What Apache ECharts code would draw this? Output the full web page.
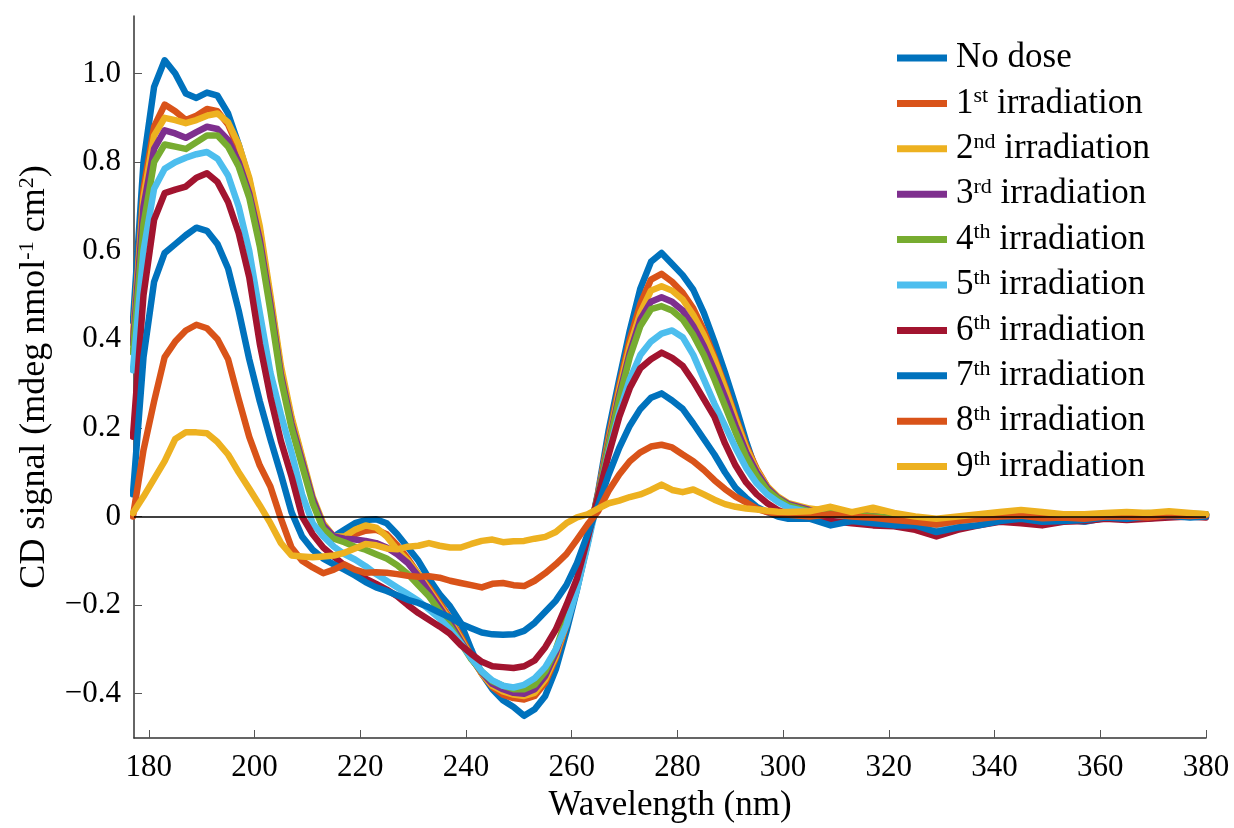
<!DOCTYPE html>
<html><head><meta charset="utf-8">
<script src="https://cdn.jsdelivr.net/npm/echarts@6/dist/echarts.min.js"></script>
<style>html,body{margin:0;padding:0;background:#fff}#c{width:1234px;height:828px}</style>
</head><body><div id="c"></div>
<script>
const wavelengths = [177,179,181,183,185,187,189,191,193,195,197,199,201,203,205,207,209,211,213,215,217,219,221,223,225,227,229,231,233,235,237,239,241,243,245,247,249,251,253,255,257,259,261,263,265,267,269,271,273,275,277,279,281,283,285,287,289,291,293,295,297,299,301,
305,309,313,317,321,325,329,333,337,341,345,349,353,357,361,365,369,373,377,380];

const noDose = [0.44,0.80,0.97,1.03,1.00,0.955,0.945,0.957,0.95,0.91,0.84,0.76,0.645,0.49,0.33,0.22,0.13,0.04,-0.02,-0.045,-0.03,-0.015,-0.008,-0.006,-0.015,-0.04,-0.07,-0.10,-0.14,-0.175,-0.203,-0.24,-0.30,-0.355,-0.39,-0.415,-0.43,-0.45,-0.435,-0.405,-0.345,-0.26,-0.165,-0.06,0.055,0.195,0.31,0.42,0.515,0.575,0.595,0.57,0.545,0.512,0.46,0.395,0.325,0.25,0.17,0.10,0.058,0.035,0.022,
0.01,-0.015,-0.005,-0.01,-0.015,-0.02,-0.03,-0.02,-0.015,-0.01,-0.005,-0.01,-0.005,-0.012,-0.003,0.0,-0.005,0.002,0.0,0.005];

const irr1 = [0.40,0.74,0.88,0.93,0.915,0.895,0.905,0.92,0.915,0.885,0.83,0.75,0.64,0.49,0.33,0.215,0.125,0.035,-0.025,-0.05,-0.05,-0.04,-0.032,-0.03,-0.04,-0.065,-0.095,-0.13,-0.16,-0.195,-0.23,-0.27,-0.315,-0.355,-0.385,-0.402,-0.41,-0.413,-0.405,-0.375,-0.32,-0.245,-0.16,-0.06,0.052,0.18,0.295,0.40,0.48,0.535,0.548,0.53,0.505,0.47,0.42,0.36,0.295,0.225,0.16,0.108,0.068,0.042,0.026,
0.015,0.0,0.005,-0.005,-0.005,-0.01,-0.02,-0.012,-0.005,0.0,0.005,-0.003,0.0,-0.005,0.0,0.003,0.0,0.005,0.002,0.004];

const irr2 = [0.40,0.72,0.86,0.90,0.895,0.888,0.895,0.905,0.91,0.89,0.84,0.765,0.655,0.50,0.34,0.225,0.135,0.045,-0.015,-0.045,-0.045,-0.03,-0.02,-0.025,-0.045,-0.075,-0.10,-0.13,-0.165,-0.20,-0.235,-0.275,-0.318,-0.355,-0.382,-0.395,-0.402,-0.405,-0.398,-0.368,-0.315,-0.24,-0.155,-0.058,0.05,0.17,0.285,0.385,0.46,0.51,0.52,0.51,0.49,0.455,0.41,0.355,0.29,0.22,0.155,0.105,0.068,0.045,0.03,
0.018,0.012,0.008,0.005,0.0,-0.005,-0.012,-0.008,0.0,0.003,0.008,0.002,0.0,0.0,0.003,0.006,0.002,0.008,0.004,0.005];

const irr3 = [0.39,0.70,0.83,0.872,0.865,0.855,0.868,0.88,0.875,0.85,0.80,0.73,0.625,0.48,0.32,0.21,0.125,0.04,-0.02,-0.045,-0.05,-0.052,-0.055,-0.06,-0.07,-0.085,-0.105,-0.135,-0.17,-0.205,-0.24,-0.28,-0.32,-0.352,-0.378,-0.39,-0.398,-0.40,-0.39,-0.36,-0.308,-0.235,-0.152,-0.056,0.05,0.165,0.275,0.37,0.445,0.485,0.495,0.485,0.465,0.43,0.385,0.33,0.27,0.205,0.145,0.10,0.065,0.042,0.028,
0.015,0.005,0.005,0.0,-0.005,-0.008,-0.015,-0.01,-0.003,0.0,0.005,0.0,-0.002,-0.003,0.002,0.004,0.0,0.006,0.003,0.004];

const irr4 = [0.37,0.66,0.80,0.84,0.835,0.83,0.845,0.86,0.86,0.835,0.79,0.72,0.61,0.465,0.31,0.20,0.115,0.03,-0.028,-0.05,-0.058,-0.068,-0.075,-0.085,-0.095,-0.11,-0.13,-0.155,-0.18,-0.213,-0.248,-0.285,-0.322,-0.35,-0.372,-0.382,-0.39,-0.39,-0.38,-0.35,-0.30,-0.23,-0.15,-0.055,0.048,0.16,0.265,0.36,0.43,0.468,0.475,0.465,0.445,0.41,0.365,0.31,0.25,0.19,0.135,0.092,0.06,0.04,0.025,
0.012,0.008,0.003,0.0,-0.004,-0.006,-0.012,-0.006,0.0,0.002,0.006,0.002,0.0,-0.002,0.003,0.005,0.008,0.004,0.006,0.005];

const irr5 = [0.33,0.60,0.74,0.785,0.80,0.81,0.818,0.823,0.808,0.77,0.70,0.60,0.46,0.325,0.23,0.145,0.05,-0.015,-0.045,-0.068,-0.085,-0.097,-0.112,-0.13,-0.145,-0.16,-0.175,-0.19,-0.21,-0.23,-0.255,-0.285,-0.32,-0.35,-0.37,-0.382,-0.386,-0.38,-0.365,-0.34,-0.30,-0.245,-0.165,-0.065,0.042,0.145,0.235,0.31,0.365,0.395,0.413,0.42,0.405,0.365,0.31,0.255,0.205,0.155,0.11,0.075,0.05,0.033,0.02,
0.01,0.0,-0.005,-0.008,-0.01,-0.015,-0.02,-0.015,-0.008,-0.005,0.0,-0.005,-0.008,-0.01,-0.002,0.0,-0.003,0.003,0.0,0.003];

const irr6 = [0.18,0.50,0.67,0.73,0.738,0.745,0.765,0.775,0.755,0.71,0.64,0.54,0.39,0.27,0.17,0.09,0.0,-0.04,-0.07,-0.09,-0.11,-0.13,-0.14,-0.152,-0.165,-0.18,-0.20,-0.218,-0.233,-0.248,-0.265,-0.29,-0.31,-0.328,-0.338,-0.34,-0.342,-0.338,-0.325,-0.295,-0.255,-0.20,-0.14,-0.05,0.045,0.14,0.225,0.29,0.335,0.355,0.37,0.358,0.34,0.305,0.265,0.225,0.165,0.115,0.077,0.05,0.03,0.015,0.005,
0.0,-0.01,-0.015,-0.02,-0.022,-0.03,-0.045,-0.03,-0.02,-0.012,-0.015,-0.02,-0.012,-0.01,-0.005,-0.008,-0.005,-0.002,0.0,-0.002];

const irr7 = [0.05,0.36,0.53,0.595,0.615,0.635,0.652,0.645,0.615,0.56,0.465,0.355,0.26,0.175,0.095,0.01,-0.045,-0.075,-0.095,-0.108,-0.12,-0.133,-0.148,-0.16,-0.168,-0.178,-0.188,-0.195,-0.205,-0.217,-0.228,-0.242,-0.252,-0.262,-0.266,-0.267,-0.266,-0.258,-0.24,-0.215,-0.19,-0.155,-0.105,-0.04,0.025,0.095,0.155,0.205,0.243,0.268,0.278,0.262,0.243,0.21,0.175,0.14,0.10,0.065,0.042,0.022,0.01,0.0,-0.005,
-0.005,-0.02,-0.01,-0.015,-0.02,-0.02,-0.035,-0.025,-0.02,-0.01,-0.005,-0.012,-0.01,-0.008,-0.002,-0.005,0.0,0.002,-0.002,0.0];

const irr8 = [0.0,0.15,0.26,0.36,0.395,0.42,0.433,0.425,0.40,0.355,0.265,0.18,0.115,0.068,-0.005,-0.07,-0.10,-0.115,-0.128,-0.12,-0.108,-0.12,-0.127,-0.126,-0.127,-0.13,-0.134,-0.136,-0.135,-0.138,-0.145,-0.15,-0.155,-0.16,-0.152,-0.15,-0.155,-0.157,-0.145,-0.128,-0.108,-0.085,-0.052,-0.018,0.012,0.058,0.095,0.125,0.145,0.158,0.162,0.156,0.14,0.125,0.105,0.082,0.062,0.045,0.032,0.018,0.01,0.006,0.004,
0.0,0.005,0.0,-0.003,-0.008,-0.012,-0.018,-0.01,-0.005,0.0,0.002,-0.004,-0.002,-0.005,0.0,0.0,-0.002,0.003,0.001,0.003];

const irr9 = [0.008,0.045,0.085,0.125,0.175,0.19,0.19,0.188,0.168,0.14,0.10,0.063,0.025,-0.015,-0.06,-0.088,-0.09,-0.092,-0.09,-0.088,-0.082,-0.072,-0.062,-0.065,-0.072,-0.074,-0.068,-0.066,-0.06,-0.066,-0.07,-0.07,-0.062,-0.055,-0.052,-0.058,-0.056,-0.055,-0.05,-0.046,-0.035,-0.015,-0.002,0.005,0.018,0.03,0.036,0.044,0.05,0.06,0.072,0.06,0.055,0.061,0.05,0.038,0.028,0.022,0.018,0.016,0.013,0.011,0.01,
0.012,0.022,0.01,0.02,0.008,0.0,-0.005,0.0,0.005,0.01,0.015,0.01,0.005,0.005,0.008,0.01,0.008,0.012,0.008,0.005];

const seriesNames = ['No dose','1st irradiation','2nd irradiation','3rd irradiation','4th irradiation','5th irradiation','6th irradiation','7th irradiation','8th irradiation','9th irradiation'];
const seriesValues = [noDose, irr1, irr2, irr3, irr4, irr5, irr6, irr7, irr8, irr9];
const seriesColors = ['#0072BD','#D95319','#EDB120','#7E2F8E','#77AC30','#4DBEEE','#A2142F','#0072BD','#D95319','#EDB120'];
const xTicks = [180,200,220,240,260,280,300,320,340,360,380];
const yTicks = [-0.4,-0.2,0,0.2,0.4,0.6,0.8,1.0];

const FONT = "'Liberation Serif','DejaVu Serif',serif";
const chart = echarts.init(document.getElementById('c'), null, {renderer:'canvas'});

const series = seriesValues.map((vals, i) => {
  const s = {
    name: seriesNames[i],
    type: 'line',
    data: wavelengths.map((w, k) => [w, vals[k]]),
    showSymbol: false,
    symbol: 'none',
    smooth: false,
    color: seriesColors[i],
    lineStyle: {width: 6.5, color: seriesColors[i], join: 'round', cap: 'round'},
    animation: false,
    silent: true
  };
  if (i === 0) {
    s.markLine = {
      silent: true, symbol: ['none','none'], label: {show:false}, animation:false,
      lineStyle: {color:'#000', width:1.5, type:'solid'},
      data: [{yAxis: 0}]
    };
  }
  return s;
});

chart.setOption({
  animation: false,
  backgroundColor: '#fff',
  grid: {left: 134, right: 28, top: 16, bottom: 90, containLabel: false},
  xAxis: {
    type: 'value', min: 177.2, max: 380,
    name: 'Wavelength (nm)', nameLocation: 'middle', nameGap: 49,
    nameTextStyle: {fontFamily: FONT, fontSize: 35, color: '#000'},
    axisLine: {onZero: false, lineStyle: {color: '#333', width: 1.5}},
    axisTick: {inside: true, length: 8, customValues: xTicks, lineStyle: {color: '#555', width: 1}},
    axisLabel: {customValues: xTicks, margin: 14, fontFamily: FONT, fontSize: 31, color: '#000'},
    splitLine: {show: false}
  },
  yAxis: {
    type: 'value', min: -0.5, max: 1.13,
    name: 'CD signal (mdeg nmol{sup|-1} cm{sup|2})', nameLocation: 'middle', nameGap: 64,
    nameTextStyle: {fontFamily: FONT, fontSize: 36, color: '#000', lineHeight: 38,
      rich: {sup: {fontFamily: FONT, fontSize: 22, color: '#000', verticalAlign: 'top', lineHeight: 22}}},
    axisLine: {onZero: false, lineStyle: {color: '#333', width: 1.5}},
    axisTick: {inside: true, length: 8, customValues: yTicks, lineStyle: {color: '#555', width: 1}},
    axisLabel: {customValues: yTicks, margin: 13, fontFamily: FONT, fontSize: 31, color: '#000',
      formatter: v => Math.abs(v) < 1e-9 ? '0' : (v < 0 ? '\u2212' : '') + Math.abs(v).toFixed(1)},
    splitLine: {show: false}
  },
  legend: {
    orient: 'vertical', left: 892, top: 35,
    itemWidth: 50, itemHeight: 7, itemGap: 9.4, icon: 'rect',
    data: seriesNames,
    formatter: name => name.replace(/^(\d)(st|nd|rd|th) /, '$1{sup|$2} '),
    textStyle: {fontFamily: FONT, fontSize: 35, color: '#000', lineHeight: 36, padding: [0,0,0,4],
      rich: {sup: {fontFamily: FONT, fontSize: 22, color: '#000', verticalAlign: 'top', lineHeight: 22}}}
  },
  series: series
});
</script></body></html>
